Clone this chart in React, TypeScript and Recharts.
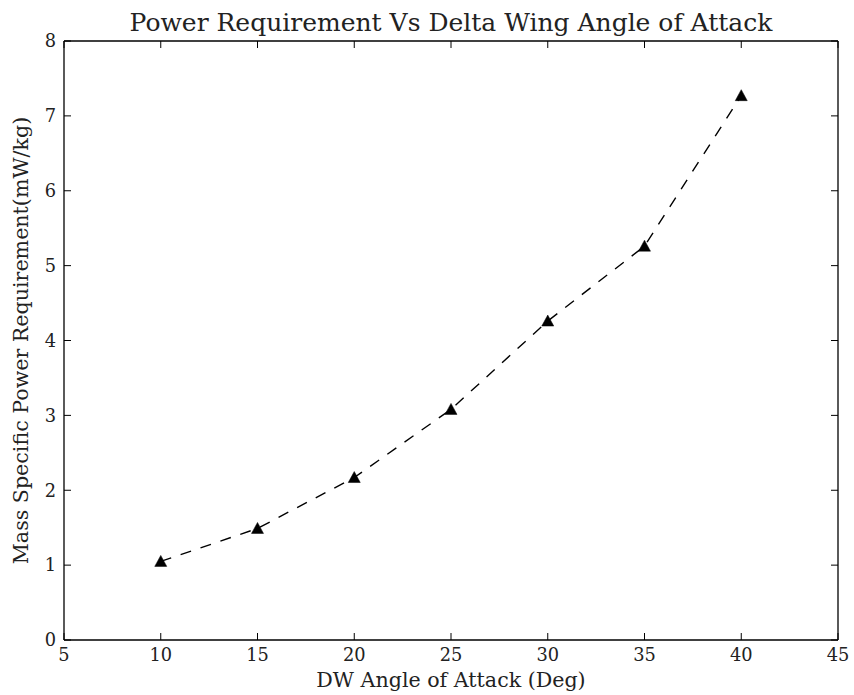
import React from 'react';
import { LineChart, Line, XAxis, YAxis, Label } from 'recharts';

const angles = [10, 15, 20, 25, 30, 35, 40];
const power = [1.05, 1.49, 2.17, 3.08, 4.26, 5.26, 7.27];
const xTicks = [5, 10, 15, 20, 25, 30, 35, 40, 45];
const yTicks = [0, 1, 2, 3, 4, 5, 6, 7, 8];

const title = 'Power Requirement Vs Delta Wing Angle of Attack';
const xLabel = 'DW Angle of Attack (Deg)';
const yLabel = 'Mass Specific Power Requirement(mW/kg)';

const data = angles.map((a, i) => ({ angle: a, power: power[i] }));

const FONT = '"DejaVu Serif", serif';
const TICK = 7;
const TICK_FS = 17.8;
const LABEL_FS = 20.6;
const TITLE_FS = 25;

const BottomTick = (props: any) => {
  const { x, y, payload } = props;
  return (
    <g>
      <line x1={x} x2={x} y1={y} y2={y - TICK} stroke="#000" strokeWidth={1} />
      <text x={x} y={y + 21} textAnchor="middle" fontFamily={FONT} fontSize={TICK_FS} fill="#222">
        {payload.value}
      </text>
    </g>
  );
};

const TopTick = (props: any) => {
  const { x, y } = props;
  return <line x1={x} x2={x} y1={y} y2={y + TICK} stroke="#000" strokeWidth={1} />;
};

const LeftTick = (props: any) => {
  const { x, y, payload } = props;
  return (
    <g>
      <line x1={x} x2={x + TICK} y1={y} y2={y} stroke="#000" strokeWidth={1} />
      <text x={x - 8} y={y + 6.3} textAnchor="end" fontFamily={FONT} fontSize={TICK_FS} fill="#222">
        {payload.value}
      </text>
    </g>
  );
};

const RightTick = (props: any) => {
  const { x, y } = props;
  return <line x1={x} x2={x - TICK} y1={y} y2={y} stroke="#000" strokeWidth={1} />;
};

const TriangleDot = (props: any) => {
  const { cx, cy, index } = props;
  if (cx == null || cy == null) return <g key={`d-${index}`} />;
  const d = `M${cx},${cy - 6} L${cx + 6},${cy + 5} L${cx - 6},${cy + 5} Z`;
  return <path key={`d-${index}`} d={d} fill="#000" stroke="#000" strokeWidth={0.5} />;
};

export default function App() {
  return (
    <div style={{ position: 'absolute', left: 0, top: 0, width: 854, height: 695, background: '#fff' }}>
      <LineChart
        width={854}
        height={695}
        data={data}
        margin={{ top: 40, right: 15, bottom: 0, left: 0 }}
      >
        <XAxis
          xAxisId="bottom"
          type="number"
          dataKey="angle"
          domain={[5, 45]}
          ticks={xTicks}
          allowDataOverflow
          orientation="bottom"
          height={55}
          tickSize={0}
          tickMargin={0}
          tickLine={false}
          tick={<BottomTick />}
          axisLine={{ stroke: '#000', strokeWidth: 1.3 }}
        >
          <Label
            content={(p: any) => {
              const vb = p.viewBox;
              return (
                <text x={vb.x + vb.width / 2} y={vb.y + 47} textAnchor="middle" fontFamily={FONT} fontSize={LABEL_FS} fill="#222">
                  {xLabel}
                </text>
              );
            }}
          />
        </XAxis>
        <XAxis
          xAxisId="top"
          type="number"
          dataKey="angle"
          domain={[5, 45]}
          ticks={xTicks}
          allowDataOverflow
          orientation="top"
          height={1}
          tickSize={0}
          tickMargin={0}
          tickLine={false}
          tick={<TopTick />}
          axisLine={{ stroke: '#000', strokeWidth: 1.3 }}
        >
          <Label
            content={(p: any) => {
              const vb = p.viewBox;
              return (
                <text x={vb.x + vb.width / 2} y={31} textAnchor="middle" fontFamily={FONT} fontSize={TITLE_FS} fill="#222">
                  {title}
                </text>
              );
            }}
          />
        </XAxis>
        <YAxis
          yAxisId="left"
          type="number"
          domain={[0, 8]}
          ticks={yTicks}
          allowDataOverflow
          orientation="left"
          width={64}
          tickSize={0}
          tickMargin={0}
          tickLine={false}
          tick={<LeftTick />}
          axisLine={{ stroke: '#000', strokeWidth: 1.3 }}
        >
          <Label
            content={(p: any) => {
              const vb = p.viewBox;
              const cy = vb.y + vb.height / 2;
              return (
                <text
                  x={28}
                  y={cy}
                  transform={`rotate(-90 28 ${cy})`}
                  textAnchor="middle"
                  fontFamily={FONT}
                  fontSize={LABEL_FS}
                  fill="#222"
                >
                  {yLabel}
                </text>
              );
            }}
          />
        </YAxis>
        <YAxis
          yAxisId="right"
          type="number"
          domain={[0, 8]}
          ticks={yTicks}
          allowDataOverflow
          orientation="right"
          width={1}
          tickSize={0}
          tickMargin={0}
          tickLine={false}
          tick={<RightTick />}
          axisLine={{ stroke: '#000', strokeWidth: 1.3 }}
        />
        <Line
          xAxisId="bottom"
          yAxisId="left"
          type="linear"
          dataKey="power"
          stroke="#000"
          strokeWidth={1.4}
          strokeDasharray="11 10"
          dot={(p: any) => <TriangleDot {...p} />}
          activeDot={false}
          isAnimationActive={false}
        />
      </LineChart>
    </div>
  );
}
